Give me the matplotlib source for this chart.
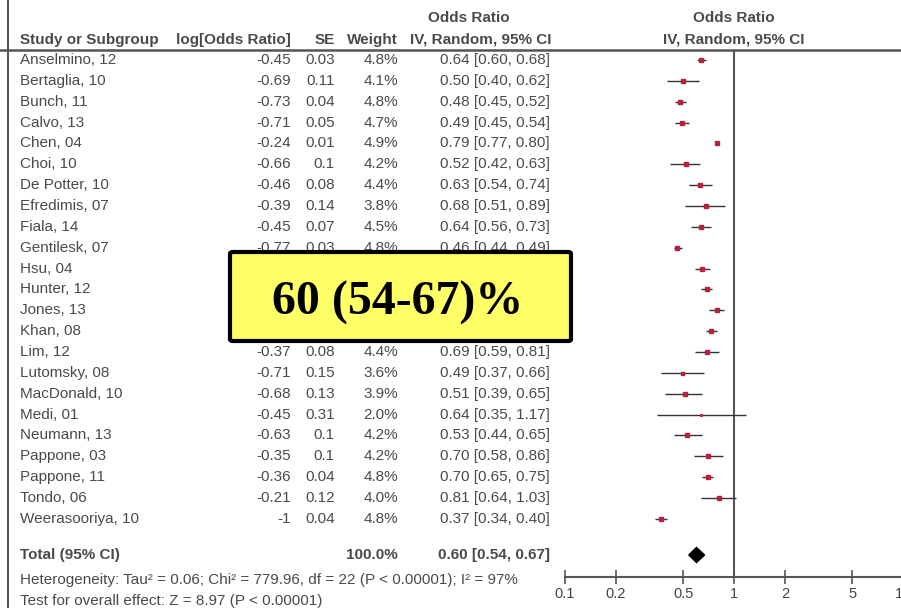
import matplotlib.pyplot as plt
import numpy as np
from matplotlib.lines import Line2D
from matplotlib.patches import FancyBboxPatch, Polygon
from matplotlib.transforms import blended_transform_factory

# study data (hidden rows estimated from the forest marks)
studies = ["Anselmino, 12", "Bertaglia, 10", "Bunch, 11", "Calvo, 13", "Chen, 04",
           "Choi, 10", "De Potter, 10", "Efredimis, 07", "Fiala, 14", "Gentilesk, 07",
           "Hsu, 04", "Hunter, 12", "Jones, 13", "Khan, 08", "Lim, 12", "Lutomsky, 08",
           "MacDonald, 10", "Medi, 01", "Neumann, 13", "Pappone, 03", "Pappone, 11",
           "Tondo, 06", "Weerasooriya, 10"]
log_or = ["-0.45", "-0.69", "-0.73", "-0.71", "-0.24", "-0.66", "-0.46", "-0.39", "-0.45",
          "-0.77", "-0.43", "-0.37", "-0.24", "-0.31", "-0.37", "-0.71", "-0.68", "-0.45",
          "-0.63", "-0.35", "-0.36", "-0.21", "-1"]
se = ["0.03", "0.11", "0.04", "0.05", "0.01", "0.1", "0.08", "0.14", "0.07", "0.03",
      "0.05", "0.04", "0.05", "0.04", "0.08", "0.15", "0.13", "0.31", "0.1", "0.1",
      "0.04", "0.12", "0.04"]
weight = [4.8, 4.1, 4.8, 4.7, 4.9, 4.2, 4.4, 3.8, 4.5, 4.8, 4.7, 4.8, 4.7, 4.8, 4.4,
          3.6, 3.9, 2.0, 4.2, 4.2, 4.8, 4.0, 4.8]
odds = [0.64, 0.50, 0.48, 0.49, 0.79, 0.52, 0.63, 0.68, 0.64, 0.46, 0.65, 0.69, 0.79,
        0.73, 0.69, 0.49, 0.51, 0.64, 0.53, 0.70, 0.70, 0.81, 0.37]
ci_low = [0.60, 0.40, 0.45, 0.45, 0.77, 0.42, 0.54, 0.51, 0.56, 0.44, 0.59, 0.64, 0.71,
          0.68, 0.59, 0.37, 0.39, 0.35, 0.44, 0.58, 0.65, 0.64, 0.34]
ci_high = [0.68, 0.62, 0.52, 0.54, 0.80, 0.63, 0.74, 0.89, 0.73, 0.49, 0.72, 0.74, 0.87,
           0.79, 0.81, 0.66, 0.65, 1.17, 0.65, 0.86, 0.75, 1.03, 0.40]
total = (0.60, 0.54, 0.67)
ticks = [0.1, 0.2, 0.5, 1, 2, 5, 10]
tick_labels = ["0.1", "0.2", "0.5", "1", "2", "5", "10"]
het_text = "Heterogeneity: Tau\u00b2 = 0.06; Chi\u00b2 = 779.96, df = 22 (P < 0.00001); I\u00b2 = 97%"
test_text = "Test for overall effect: Z = 8.97 (P < 0.00001)"
box_text = "60 (54-67)%"

W, H = 901, 608
fig = plt.figure(figsize=(W / 100, H / 100), dpi=100)
plt.rcParams['font.family'] = ['Liberation Sans', 'DejaVu Sans']

row_h = 20.86
y0 = 60
def row_of(py):
    return (py - y0) / row_h

x_left, x_right = 565, 903
ax_top, ax_bot = 50, 577
ax = fig.add_axes([x_left / W, 1 - ax_bot / H, (x_right - x_left) / W, (ax_bot - ax_top) / H])
ax.set_xscale("log")
ax.set_xlim(0.1, 10)
ax.set_ylim(row_of(ax_bot), row_of(ax_top))
ax.patch.set_visible(False)
for s in ["top", "right", "left"]:
    ax.spines[s].set_visible(False)
ax.spines["bottom"].set_color("#555555")
ax.spines["bottom"].set_linewidth(1.5)
ax.set_yticks([])
ax.set_xticks(ticks)
ax.set_xticklabels(tick_labels)
ax.minorticks_off()
ax.tick_params(axis="x", direction="inout", length=10, width=1.2, color="#555555",
               labelsize=10.5, labelcolor="#444444", pad=2)
ax.axvline(1, color="#555555", lw=1.5)

txt_col = "#4a4a4a"
rows = np.arange(len(studies))
ax.hlines(rows, ci_low, ci_high, color="#333333", lw=1)
for r, w, o in zip(rows, weight, odds):
    ax.plot(o, r, marker="s", ms=w * 0.6, color="#b8203e", mec="#b8203e")

tr = row_of(555)
d = 7.5 / row_h
ax.add_patch(Polygon([(total[1], tr), (total[0], tr - d), (total[2], tr), (total[0], tr + d)],
                     closed=True, color="black"))

tf = blended_transform_factory(fig.transFigure, ax.transData)
fs = 11
def put(px, r, s, ha="left", bold=False):
    ax.text(px / W, r, s, transform=tf, ha=ha, va="center", fontsize=fs, color=txt_col,
            fontweight="bold" if bold else "normal", clip_on=False)

for i in rows:
    put(20, i, studies[i])
    put(291, i, log_or[i], "right")
    put(335, i, se[i], "right")
    put(398, i, f"{weight[i]:.1f}%", "right")
    put(550, i, f"{odds[i]:.2f} [{ci_low[i]:.2f}, {ci_high[i]:.2f}]", "right")

hy = row_of(40)
put(20, hy, "Study or Subgroup", bold=True)
put(291, hy, "log[Odds Ratio]", "right", True)
put(335, hy, "SE", "right", True)
put(398, hy, "Weight", "right", True)
put(481, hy, "IV, Random, 95% CI", "center", True)
put(469, row_of(18), "Odds Ratio", "center", True)
put(734, hy, "IV, Random, 95% CI", "center", True)
put(734, row_of(18), "Odds Ratio", "center", True)

put(20, tr, "Total (95% CI)", bold=True)
put(398, tr, "100.0%", "right", True)
put(550, tr, f"{total[0]:.2f} [{total[1]:.2f}, {total[2]:.2f}]", "right", True)
put(20, row_of(580), het_text)
put(20, row_of(601), test_text)

# frame lines
fig.add_artist(Line2D([0, 1], [1 - 50 / H] * 2, color="#555555", lw=1.8))
fig.add_artist(Line2D([7.5 / W] * 2, [0, 1], color="#555555", lw=1.5))

# highlight box
bx0, bx1, by0, by1 = 230, 571, 252, 341
box = FancyBboxPatch((bx0 / W, 1 - by1 / H), (bx1 - bx0) / W, (by1 - by0) / H,
                     boxstyle="round,pad=0,rounding_size=0.003", transform=fig.transFigure,
                     facecolor="#ffff66", edgecolor="black", lw=3, zorder=5)
fig.add_artist(box)
fig.text((bx0 + bx1) / 2 / W - 3 / W, 1 - 303 / H, box_text, ha="center", va="center",
         fontsize=34.5, fontweight="bold", family=["Liberation Serif", "DejaVu Serif"], zorder=6)

fig.savefig("out.png", dpi=100)
